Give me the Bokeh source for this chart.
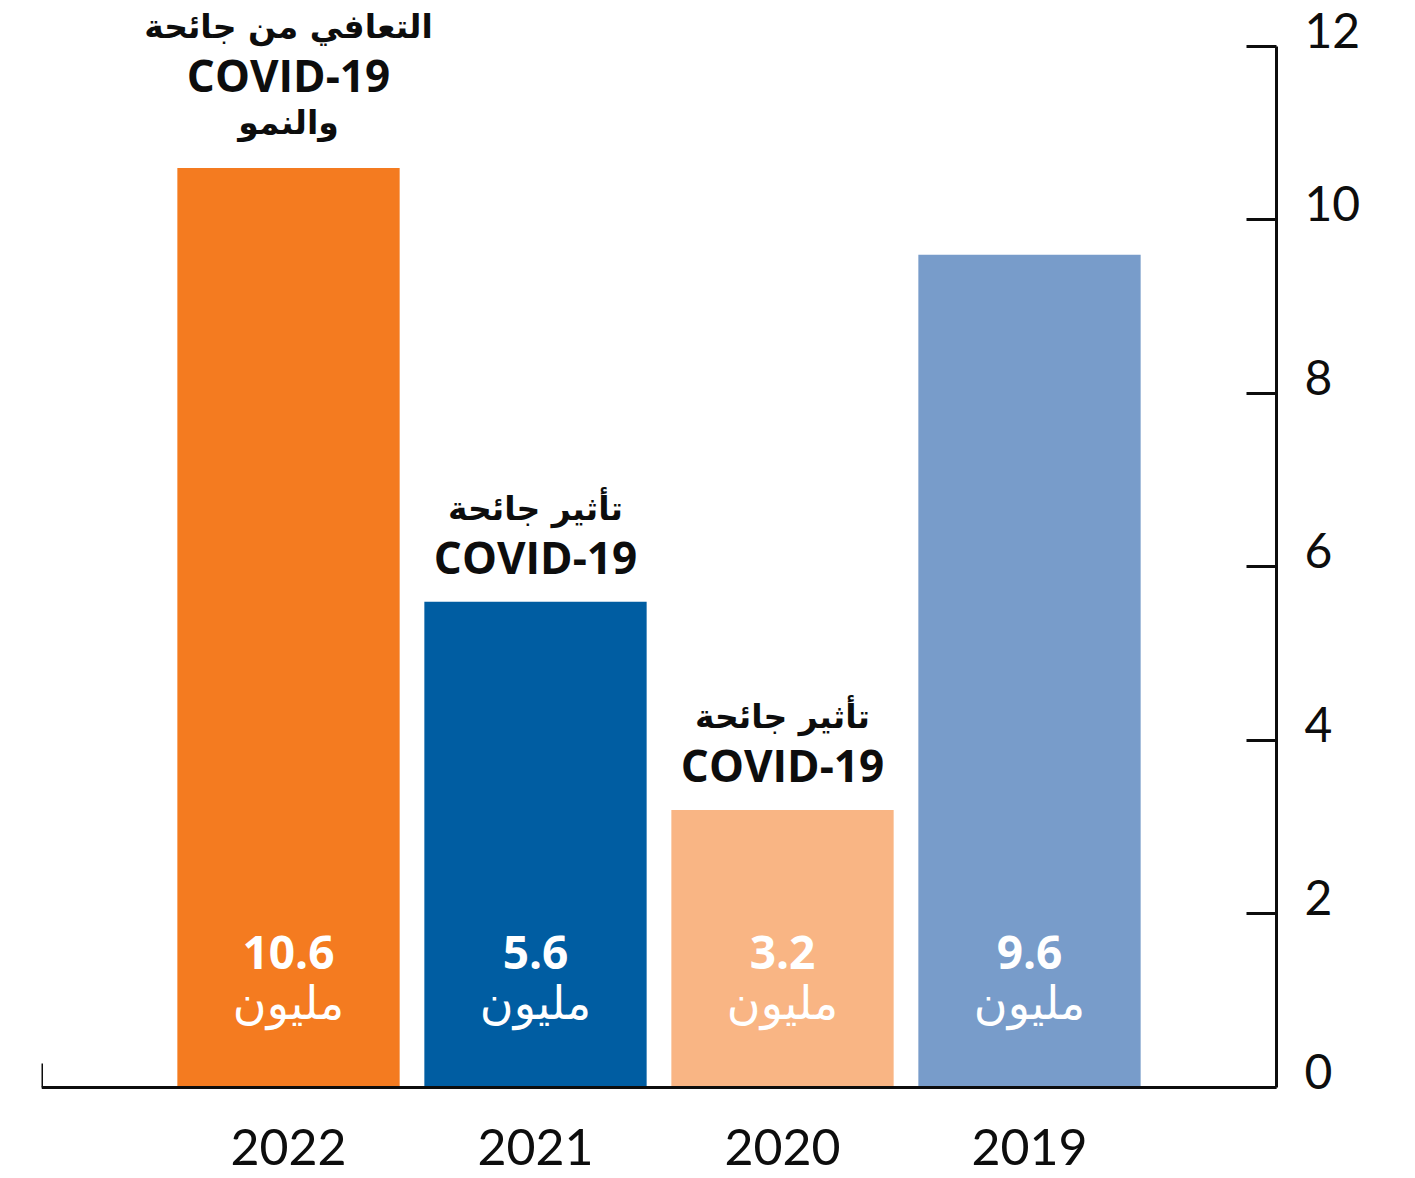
from bokeh.plotting import figure
from bokeh.models import ColumnDataSource, FixedTicker, LinearAxis, Range1d
from bokeh.core.properties import value
from bokeh.embed import file_html
from bokeh.resources import INLINE

# ---- data ----
years = ["2022", "2021", "2020", "2019"]
values = [10.6, 5.6, 3.2, 9.6]
value_labels = ["10.6", "5.6", "3.2", "9.6"]
unit_label = "مليون"
bar_colors = ["#F47B20", "#005DA2", "#F9B584", "#789CCA"]
y_ticks = [0, 2, 4, 6, 8, 10, 12]
# note lines above each bar, listed from the bar upwards
note_lines = [
    ["والنمو", "COVID-19", "التعافي من جائحة"],
    ["COVID-19", "تأثير جائحة"],
    ["COVID-19", "تأثير جائحة"],
    [],
]

positions = list(range(1, len(years) + 1))
INK = "#0d0d0d"
LATIN = "Open Sans"
NUMS = "Lato"
ARABIC = "DejaVu Sans"

# vertical extent: frame covers the whole figure height, axis bounds limit the value axis
Y_LO, Y_HI = -1.049, 12.53
LABEL_SHIFT = 0.19  # tick labels sit slightly above their ticks

p = figure(width=1400, height=1178, output_backend="svg", toolbar_location=None,
           x_range=(0, len(years) + 1), y_range=(Y_LO, Y_HI),
           y_axis_location="right",
           min_border_left=41, min_border_right=124, min_border_top=0, min_border_bottom=0)
p.outline_line_color = None
p.grid.visible = False
p.background_fill_color = "white"
p.border_fill_color = "white"

# right value axis: line and ticks
ya = p.yaxis[0]
ya.ticker = FixedTicker(ticks=y_ticks)
ya.bounds = (0, 12)
ya.axis_line_width = 3
ya.axis_line_color = INK
ya.major_tick_line_width = 3
ya.major_tick_line_color = INK
ya.major_tick_in = 30
ya.major_tick_out = 0
ya.minor_tick_line_color = None
ya.major_label_standoff = 0
ya.major_label_overrides = {t: "" for t in y_ticks}

# right value axis: tick labels
p.extra_y_ranges = {"lab": Range1d(Y_LO - LABEL_SHIFT, Y_HI - LABEL_SHIFT)}
yl = LinearAxis(y_range_name="lab", ticker=FixedTicker(ticks=y_ticks))
yl.axis_line_color = None
yl.major_tick_line_color = None
yl.minor_tick_line_color = None
yl.major_tick_in = 0
yl.major_tick_out = 0
yl.major_label_standoff = 28
yl.major_label_text_font = NUMS
yl.major_label_text_font_size = "48px"
yl.major_label_text_color = INK
p.add_layout(yl, "right")

# bottom axis at value 0: line with small end tick
xa = p.xaxis[0]
xa.fixed_location = 0
xa.ticker = FixedTicker(ticks=[0])
xa.axis_line_width = 3
xa.axis_line_color = INK
xa.major_tick_line_width = 3
xa.major_tick_line_color = INK
xa.major_tick_in = 24
xa.major_tick_out = 0
xa.minor_tick_line_color = None
xa.major_label_overrides = {0: ""}

src = ColumnDataSource(dict(x=positions, top=values, color=bar_colors,
                            vlab=value_labels, unit=[unit_label] * len(years),
                            year=years, base=[0] * len(years)))

p.vbar(x="x", top="top", width=0.9, fill_color="color", line_color=None, source=src)

p.text(x="x", y="base", text="vlab", source=src, y_offset=-135,
       text_font=value(LATIN), text_font_style="bold", text_font_size="46px",
       text_color="white", text_align="center", text_baseline="middle")
p.text(x="x", y="base", text="unit", source=src, y_offset=-84,
       text_font=value(ARABIC), text_font_size="46px",
       text_color="white", text_align="center", text_baseline="middle")

# year labels below the axis line
p.text(x="x", y="base", text="year", source=src, y_offset=60,
       text_font=value(NUMS), text_font_size="50px", text_color=INK,
       text_align="center", text_baseline="middle")

# notes above bars
ar = dict(x=[], y=[], t=[], off=[])
la = dict(x=[], y=[], t=[], off=[])
for i, lines in enumerate(note_lines):
    for j, t in enumerate(lines):
        d = la if t.startswith("COVID") else ar
        d["x"].append(positions[i])
        d["y"].append(values[i])
        d["t"].append(t)
        d["off"].append(-(45 + 48 * j))

p.text(x="x", y="y", text="t", y_offset="off", source=ColumnDataSource(ar),
       text_font=value(ARABIC), text_font_style="bold", text_font_size="33px",
       text_color=INK, text_align="center", text_baseline="middle")
p.text(x="x", y="y", text="t", y_offset="off", source=ColumnDataSource(la),
       text_font=value(LATIN), text_font_style="bold", text_font_size="44px",
       text_color=INK, text_align="center", text_baseline="middle")

open("out.html", "w").write(file_html(p, INLINE))
